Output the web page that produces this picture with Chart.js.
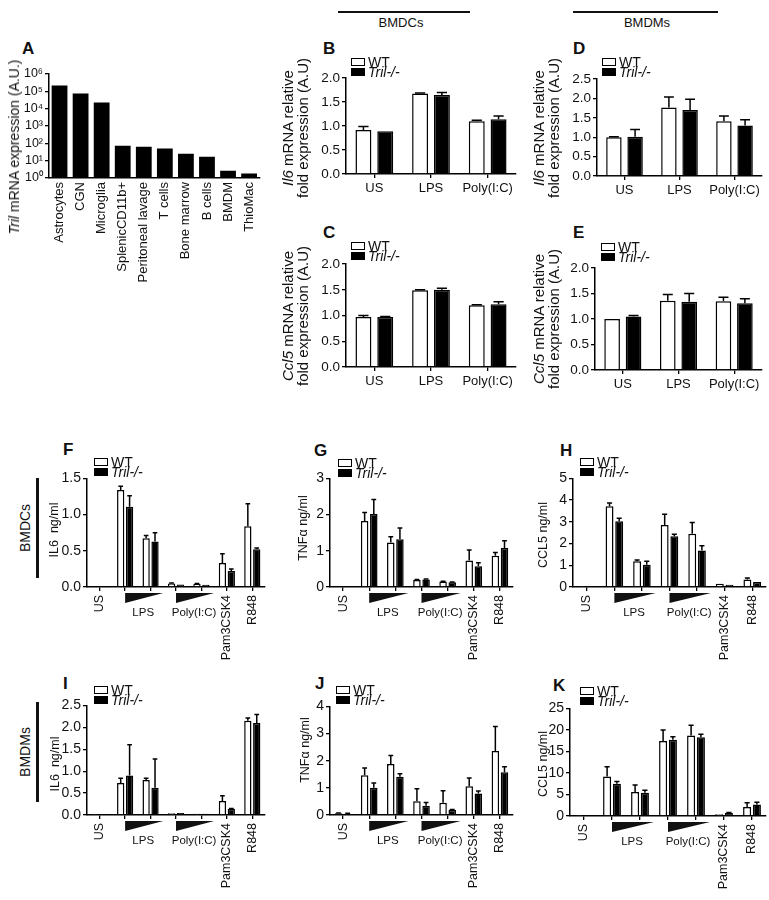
<!DOCTYPE html>
<html>
<head>
<meta charset="UTF-8">
<title>Tril expression and cytokine responses</title>
<script src="https://cdn.jsdelivr.net/npm/chart.js@4.4.0/dist/chart.umd.min.js"></script>
<style>
  body { margin: 0; background: #fff; font-family: "Liberation Sans", Arial, sans-serif; color: #111; }
  #fig { position: relative; width: 769px; height: 900px; overflow: hidden; }
  canvas { position: absolute; }
  .t { position: absolute; white-space: nowrap; line-height: 1; }
  .bar { position: absolute; background: #111; }
</style>
</head>
<body>
<div id="fig"></div>
<script>
// ---- data ----
const tissues = ['Astrocytes', 'CGN', 'Microglia', 'SplenicCD11b+', 'Peritoneal lavage',
                 'T cells', 'Bone marrow', 'B cells', 'BMDM', 'ThioMac'];
const trilExpr = [220000, 75000, 23000, 73, 64, 51, 25, 17, 2.6, 1.8];

const qpcrCats = ['US', 'LPS', 'Poly(I:C)'];
// B: Il6, BMDCs
const il6DcWT = [0.92, 1.68, 1.10], il6DcWTErr = [0.07, 0.01, 0.02];
const il6DcKO = [0.89, 1.65, 1.14], il6DcKOErr = [0, 0.05, 0.07];
// C: Ccl5, BMDCs
const ccl5DcWT = [0.97, 1.49, 1.20], ccl5DcWTErr = [0.03, 0.01, 0.01];
const ccl5DcKO = [0.97, 1.50, 1.22], ccl5DcKOErr = [0.01, 0.03, 0.05];
// D: Il6, BMDMs
const il6MWT = [1.00, 1.77, 1.41], il6MWTErr = [0.01, 0.27, 0.14];
const il6MKO = [1.01, 1.70, 1.30], il6MKOErr = [0.19, 0.28, 0.15];
// E: Ccl5, BMDMs
const ccl5MWT = [1.00, 1.36, 1.35], ccl5MWTErr = [0, 0.12, 0.08];
const ccl5MKO = [1.05, 1.34, 1.31], ccl5MKOErr = [0.02, 0.16, 0.09];

const stimCats = ['US', 'LPS high', 'LPS low', 'Poly(I:C) high', 'Poly(I:C) low', 'Pam3CSK4', 'R848'];
// F: IL6, BMDCs
const fWT = [0.01, 1.34, 0.675, 0.05, 0.045, 0.33, 0.84], fWTErr = [0, 0.05, 0.035, 0.005, 0.005, 0.13, 0.31];
const fKO = [0.005, 1.11, 0.63, 0.036, 0.03, 0.22, 0.52], fKOErr = [0, 0.15, 0.12, 0, 0, 0.03, 0.02];
// G: TNFa, BMDCs
const gWT = [0.02, 1.82, 1.23, 0.19, 0.15, 0.73, 0.86], gWTErr = [0, 0.24, 0.16, 0.02, 0.01, 0.29, 0.09];
const gKO = [0.01, 2.02, 1.32, 0.21, 0.13, 0.57, 1.08], gKOErr = [0, 0.40, 0.31, 0.01, 0.01, 0.10, 0.20];
// H: CCL5, BMDCs
const hWT = [0.02, 3.72, 1.19, 2.86, 2.45, 0.15, 0.35], hWTErr = [0, 0.15, 0.05, 0.49, 0.52, 0, 0.06];
const hKO = [0.01, 3.03, 1.02, 2.34, 1.68, 0.10, 0.23], hKOErr = [0, 0.14, 0.17, 0.09, 0.22, 0, 0];
// I: IL6, BMDMs
const iWT = [0.01, 0.73, 0.80, 0.04, 0.03, 0.32, 2.15], iWTErr = [0, 0.11, 0.04, 0, 0, 0.12, 0.06];
const iKO = [0.01, 0.90, 0.62, 0.045, 0.03, 0.14, 2.10], iKOErr = [0, 0.70, 0.66, 0, 0, 0.01, 0.19];
// J: TNFa, BMDMs
const jWT = [0.06, 1.46, 1.88, 0.51, 0.45, 1.06, 2.36], jWTErr = [0.01, 0.27, 0.31, 0.46, 0.44, 0.30, 0.90];
const jKO = [0.05, 1.00, 1.41, 0.34, 0.18, 0.79, 1.57], jKOErr = [0.01, 0.18, 0.11, 0.12, 0.02, 0.09, 0.21];
// K: CCL5, BMDMs
const kWT = [0.10, 9.16, 5.6, 17.4, 18.7, 0.40, 2.1], kWTErr = [0, 2.3, 1.6, 2.6, 2.4, 0, 1.0];
const kKO = [0.05, 7.5, 5.4, 17.7, 18.3, 0.70, 2.7], kKOErr = [0, 0.5, 0.6, 0.7, 0.7, 0.1, 0.5];

const stimGroups = [
  { label: 'US', from: 0 },
  { label: 'LPS', from: 1, to: 2 },
  { label: 'Poly(I:C)', from: 3, to: 4 },
  { label: 'Pam3CSK4', from: 5 },
  { label: 'R848', from: 6 }
];

// ---- drawing ----
const FONT = '"Liberation Sans", Arial, sans-serif';
Chart.defaults.font.family = FONT;
Chart.defaults.color = '#111';
const fig = document.getElementById('fig');

const errorBars = {
  id: 'errorBars',
  afterDatasetsDraw(chart) {
    const ctx = chart.ctx, y = chart.scales.y;
    chart.data.datasets.forEach((ds, i) => {
      if (!ds.errs) return;
      chart.getDatasetMeta(i).data.forEach((bar, j) => {
        const e = ds.errs[j];
        if (!e) return;
        const top = y.getPixelForValue(ds.data[j] + e);
        const half = bar.width * 0.32;
        ctx.save();
        ctx.strokeStyle = '#000';
        ctx.lineWidth = 1.5;
        ctx.beginPath();
        ctx.moveTo(bar.x, bar.y);
        ctx.lineTo(bar.x, top);
        ctx.moveTo(bar.x - half, top);
        ctx.lineTo(bar.x + half, top);
        ctx.stroke();
        ctx.restore();
      });
    });
  }
};
Chart.register(errorBars);

function place(box, yw, pt, pr, xh) {
  const c = document.createElement('canvas');
  const w = box.r - box.l + yw + pr, h = box.b - box.t + pt + xh;
  c.width = w; c.height = h;
  c.style.left = (box.l - yw) + 'px';
  c.style.top = (box.t - pt) + 'px';
  fig.appendChild(c);
  return c;
}

function axisLine() { return { display: true, color: '#000', width: 1.5 }; }
function tickGrid(len) {
  return { display: true, drawOnChartArea: false, drawTicks: len > 0, tickLength: len, color: '#000', lineWidth: 1.3 };
}

// labels under the three-category qPCR panels
function qpcrLabels() {
  return {
    id: 'qpcrLabels',
    afterDraw(chart) {
      const ctx = chart.ctx, x = chart.scales.x, b = chart.chartArea.bottom;
      ctx.save();
      ctx.fillStyle = '#111';
      ctx.font = '13px ' + FONT;
      ctx.textAlign = 'center';
      ctx.textBaseline = 'middle';
      chart.data.labels.forEach((l, i) => ctx.fillText(l, x.getPixelForValue(i), b + 14));
      ctx.restore();
    }
  };
}

// labels, dose wedges under the stimulation panels
function stimLabels() {
  return {
    id: 'stimLabels',
    afterDraw(chart) {
      const ctx = chart.ctx, x = chart.scales.x, b = chart.chartArea.bottom;
      ctx.save();
      ctx.fillStyle = '#111';
      stimGroups.forEach(g => {
        const x0 = x.getPixelForValue(g.from);
        if (g.to !== undefined) {
          const x1 = x.getPixelForValue(g.to);
          const right = x1 + (x1 - x0) / 2;
          ctx.beginPath();
          ctx.moveTo(x0, b + 6);
          ctx.lineTo(right, b + 6);
          ctx.lineTo(x0, b + 16);
          ctx.closePath();
          ctx.fill();
          ctx.font = '11.5px ' + FONT;
          ctx.textAlign = 'center';
          ctx.textBaseline = 'middle';
          ctx.fillText(g.label, (x0 + right) / 2 - 1, b + 26);
        } else {
          ctx.save();
          ctx.translate(x0, b + 8);
          ctx.rotate(-Math.PI / 2);
          ctx.font = '12.5px ' + FONT;
          ctx.textAlign = 'right';
          ctx.textBaseline = 'middle';
          ctx.fillText(g.label, 0, 0);
          ctx.restore();
        }
      });
      ctx.restore();
    }
  };
}

function pairedBars(box, labels, wt, wtErr, ko, koErr, yMax, yStep, dec, kind) {
  const YW = 40, PT = 10, PR = 4;
  const XH = kind === 'stim' ? 85 : 26;
  const canvas = place(box, YW, PT, PR, XH);
  const cat = kind === 'stim' ? 0.7 : 0.77;
  const bp = kind === 'stim' ? 0.82 : 0.73;
  new Chart(canvas, {
    type: 'bar',
    data: {
      labels: labels,
      datasets: [
        { label: 'WT', data: wt, errs: wtErr, backgroundColor: '#fff', borderColor: '#000',
          borderWidth: 1.5, categoryPercentage: cat, barPercentage: bp },
        { label: 'Tril-/-', data: ko, errs: koErr, backgroundColor: '#000', borderColor: '#000',
          borderWidth: 1.5, categoryPercentage: cat, barPercentage: bp }
      ]
    },
    options: {
      responsive: false,
      animation: false,
      layout: { padding: { top: PT, right: PR, left: 0, bottom: 0 } },
      plugins: { legend: { display: false }, tooltip: { enabled: false } },
      scales: {
        x: {
          offset: true,
          border: axisLine(),
          grid: Object.assign(tickGrid(4), { offset: false }),
          ticks: { display: false },
          afterFit(s) { s.height = XH; }
        },
        y: {
          min: 0, max: yMax,
          border: axisLine(),
          grid: tickGrid(4),
          ticks: { stepSize: yStep, padding: 2, font: { size: kind === 'stim' ? 14 : 13.5 },
                   callback: v => v.toFixed(dec) },
          afterFit(s) { s.width = YW; }
        }
      }
    },
    plugins: [kind === 'stim' ? stimLabels() : qpcrLabels()]
  });
}

// A: Tril expression, log axis
(function () {
  const box = { l: 49, t: 74, r: 263, b: 178 };
  const YW = 45, PT = 10, PR = 6, XH = 115;
  const canvas = place(box, YW, PT, PR, XH);
  const sup = ['\u2070', '\u00b9', '\u00b2', '\u00b3', '\u2074', '\u2075', '\u2076'];
  new Chart(canvas, {
    type: 'bar',
    data: { labels: tissues, datasets: [{ data: trilExpr, backgroundColor: '#000',
      categoryPercentage: 1, barPercentage: 0.75 }] },
    options: {
      responsive: false,
      animation: false,
      layout: { padding: { top: PT, right: PR, left: 0, bottom: 0 } },
      plugins: { legend: { display: false }, tooltip: { enabled: false } },
      scales: {
        x: {
          border: axisLine(),
          grid: tickGrid(0),
          ticks: { minRotation: 90, maxRotation: 90, autoSkip: false, padding: 4, font: { size: 13 } },
          afterFit(s) { s.height = XH; }
        },
        y: {
          type: 'logarithmic', min: 1, max: 1e6,
          border: axisLine(),
          grid: tickGrid(4),
          afterBuildTicks(s) { s.ticks = [1, 10, 100, 1e3, 1e4, 1e5, 1e6].map(v => ({ value: v, major: true })); },
          ticks: { autoSkip: false, padding: 2, font: { size: 12.5 },
                   callback: v => '10' + sup[Math.round(Math.log10(v))] },
          afterFit(s) { s.width = YW; }
        }
      }
    }
  });
})();

pairedBars({ l: 346, t: 78, r: 516, b: 174 }, qpcrCats, il6DcWT, il6DcWTErr, il6DcKO, il6DcKOErr, 2, 0.5, 1, 'qpcr');
pairedBars({ l: 346, t: 264, r: 516, b: 367 }, qpcrCats, ccl5DcWT, ccl5DcWTErr, ccl5DcKO, ccl5DcKOErr, 2, 0.5, 1, 'qpcr');
pairedBars({ l: 597, t: 79, r: 762, b: 176 }, qpcrCats, il6MWT, il6MWTErr, il6MKO, il6MKOErr, 2.5, 0.5, 1, 'qpcr');
pairedBars({ l: 595, t: 268, r: 762, b: 370 }, qpcrCats, ccl5MWT, ccl5MWTErr, ccl5MKO, ccl5MKOErr, 2, 0.5, 1, 'qpcr');

pairedBars({ l: 87, t: 478, r: 265, b: 587 }, stimCats, fWT, fWTErr, fKO, fKOErr, 1.5, 0.5, 1, 'stim');
pairedBars({ l: 330, t: 478, r: 513, b: 587 }, stimCats, gWT, gWTErr, gKO, gKOErr, 3, 1, 0, 'stim');
pairedBars({ l: 573, t: 478, r: 766, b: 587 }, stimCats, hWT, hWTErr, hKO, hKOErr, 5, 1, 0, 'stim');
pairedBars({ l: 87, t: 705, r: 265, b: 815 }, stimCats, iWT, iWTErr, iKO, iKOErr, 2.5, 0.5, 1, 'stim');
pairedBars({ l: 330, t: 706, r: 513, b: 815 }, stimCats, jWT, jWTErr, jKO, jKOErr, 4, 1, 0, 'stim');
pairedBars({ l: 570, t: 708, r: 766, b: 816 }, stimCats, kWT, kWTErr, kKO, kKOErr, 25, 5, 0, 'stim');

// ---- text overlays ----
function txt(html, x, y, css) {
  const d = document.createElement('div');
  d.className = 't';
  d.innerHTML = html;
  d.style.left = x + 'px';
  d.style.top = y + 'px';
  if (css) d.style.cssText += css;
  fig.appendChild(d);
  return d;
}
function rot(html, cx, cy, size, lh) {
  return txt(html, cx, cy, 'font-size:' + size + 'px;line-height:' + (lh || size) + 'px;' +
    'transform:translate(-50%,-50%) rotate(-90deg);text-align:center');
}
function rule(x, y, w, h) {
  const d = document.createElement('div');
  d.className = 'bar';
  d.style.cssText += 'left:' + x + 'px;top:' + y + 'px;width:' + w + 'px;height:' + h + 'px';
  fig.appendChild(d);
}
function legend(x, y) {
  const box = (top, fill) => {
    const d = document.createElement('div');
    d.style.cssText = 'position:absolute;box-sizing:border-box;left:' + x + 'px;top:' + top +
      'px;width:14px;height:8px;border:1.5px solid #000;background:' + fill;
    fig.appendChild(d);
  };
  box(y, '#fff');
  box(y + 10, '#000');
  txt('WT', x + 17, y - 3, 'font-size:14px;line-height:14px');
  txt('<i>Tril-/-</i>', x + 17, y + 7, 'font-size:14px;line-height:14px');
}

// panel letters
[['A', 22, 40], ['B', 323, 40], ['D', 573, 40], ['C', 323, 224], ['E', 573, 224],
 ['F', 63, 441], ['G', 314, 442], ['H', 560, 442], ['I', 63, 675], ['J', 315, 675], ['K', 553, 677]]
  .forEach(p => txt(p[0], p[1], p[2], 'font-size:17px;font-weight:bold'));

// cell-type headers
rule(338, 11, 132, 2);
txt('BMDCs', 401, 16, 'font-size:13px;transform:translateX(-50%)');
rule(573, 11, 145, 2);
txt('BMDMs', 647, 16, 'font-size:13px;transform:translateX(-50%)');
rule(36, 478, 2.5, 100);
rot('BMDCs', 25, 528, 14);
rule(36, 702, 2.5, 100);
rot('BMDMs', 25, 752, 14);

// axis titles
rot('<i>Tril</i> mRNA expression (A.U.)', 14, 147, 14);
rot('<i>Il6</i> mRNA relative<br>fold expression (A.U)', 295, 128, 15, 15);
rot('<i>Ccl5</i> mRNA relative<br>fold expression (A.U)', 295, 316, 15, 15);
rot('<i>Il6</i> mRNA relative<br>fold expression (A.U)', 546, 128, 15, 15);
rot('<i>Ccl5</i> mRNA relative<br>fold expression (A.U)', 546, 319, 15, 15);
rot('IL6&nbsp; ng/ml', 54, 530, 12.5);
rot('TNF\u03b1 ng/ml', 303, 528, 12.5);
rot('CCL5 ng/ml', 543, 535, 12.5);
rot('IL6&nbsp; ng/ml', 55, 764, 12.5);
rot('TNF\u03b1 ng/ml', 305, 750, 12.5);
rot('CCL5 ng/ml', 543, 764, 12.5);

// legends
legend(351, 58); legend(351, 242); legend(602, 58); legend(601, 243);
legend(94, 458); legend(338, 459); legend(580, 458);
legend(94, 686); legend(336, 686); legend(580, 687);
</script>
</body>
</html>
